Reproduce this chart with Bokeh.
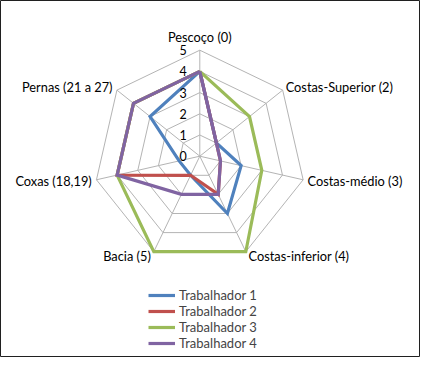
import math
from bokeh.plotting import figure
from bokeh.models import ColumnDataSource, Legend, LegendItem, Range1d
from bokeh.core.properties import value
from bokeh.embed import file_html
from bokeh.resources import INLINE

categories = ["Pescoço (0)", "Costas-Superior (2)", "Costas-médio (3)",
              "Costas-inferior (4)", "Bacia (5)", "Coxas (18,19)", "Pernas (21 a 27)"]
series_names = ["Trabalhador 1", "Trabalhador 2", "Trabalhador 3", "Trabalhador 4"]
trabalhador_1 = [4, 1, 2, 3, 1, 1, 3]
trabalhador_2 = [4, 1, 1, 2, 1, 4, 4]
trabalhador_3 = [4, 3, 3, 5, 5, 4, 4]
trabalhador_4 = [4, 1, 1, 2, 2, 4, 4]
tick_values = [0, 1, 2, 3, 4, 5]
tick_labels = ["0", "1", "2", "3", "4", "5"]
r_max = 5

colors = ["#4F81BD", "#C0504D", "#9BBB59", "#8064A2"]
FONT = "Lato"

W, H = 420, 357
unit = 21.2
cx, cy = 199.3, 155.7

p = figure(width=W, height=H, output_backend="svg", toolbar_location=None,
           min_border=0, x_axis_type=None, y_axis_type=None)
p.x_range = Range1d(-cx / unit, (W - cx) / unit)
p.y_range = Range1d(-(H - cy) / unit, cy / unit)
p.xgrid.visible = False
p.ygrid.visible = False
p.outline_line_color = "#202020"
p.outline_line_width = 1
p.background_fill_color = "white"
p.border_fill_color = "white"

n = len(categories)
angles = [2 * math.pi * k / n for k in range(n)]

def pt(r, a):
    return r * math.sin(a), r * math.cos(a)

grid_col = "#B4B4B4"
# rings
for t in tick_values[1:]:
    xs = [pt(t, a)[0] for a in angles] + [pt(t, angles[0])[0]]
    ys = [pt(t, a)[1] for a in angles] + [pt(t, angles[0])[1]]
    p.line(xs, ys, line_color=grid_col, line_width=1)
# spokes
for a in angles:
    x, y = pt(r_max, a)
    p.line([0, x], [0, y], line_color=grid_col, line_width=1)

# series
items = []
for name, vals, col in zip(series_names,
                           [trabalhador_1, trabalhador_2, trabalhador_3, trabalhador_4],
                           colors):
    xs = [pt(v, a)[0] for v, a in zip(vals, angles)]
    ys = [pt(v, a)[1] for v, a in zip(vals, angles)]
    xs.append(xs[0]); ys.append(ys[0])
    r = p.line(xs, ys, line_color=col, line_width=3.2, line_join="miter")
    items.append(LegendItem(label=name, renderers=[r]))

# tick labels
p.text(x=[0] * len(tick_values), y=tick_values, text=tick_labels,
       text_font=value(FONT), text_font_size="12.5px", text_color="#000000",
       text_align="right", text_baseline="middle", x_offset=-13, y_offset=0)

# category labels
aligns = ["center", "left", "left", "left", "right", "right", "right"]
xoffs = [0, 3, 4.4, 2.7, -3, -4.7, -4.4]
yoffs = [-13.4, -2.7, 1, 4, 4, 1, -2.7]
lx = [pt(r_max, a)[0] for a in angles]
ly = [pt(r_max, a)[1] for a in angles]
src = ColumnDataSource(dict(x=lx, y=ly, text=categories, align=aligns, xo=xoffs, yo=yoffs))
p.text(x="x", y="y", text="text", source=src, text_align="align",
       x_offset="xo", y_offset="yo",
       text_font=value(FONT), text_font_size="12.8px", text_color="#000000",
       text_baseline="middle")

legend = Legend(items=items, location=(148, 6), orientation="vertical",
                glyph_width=27, glyph_height=16, label_height=16, spacing=0,
                padding=0, margin=0, label_standoff=4,
                label_text_font=FONT, label_text_font_size="13px",
                border_line_color=None, background_fill_alpha=0)
p.add_layout(legend, "center")

open("out.html", "w").write(file_html(p, INLINE))
